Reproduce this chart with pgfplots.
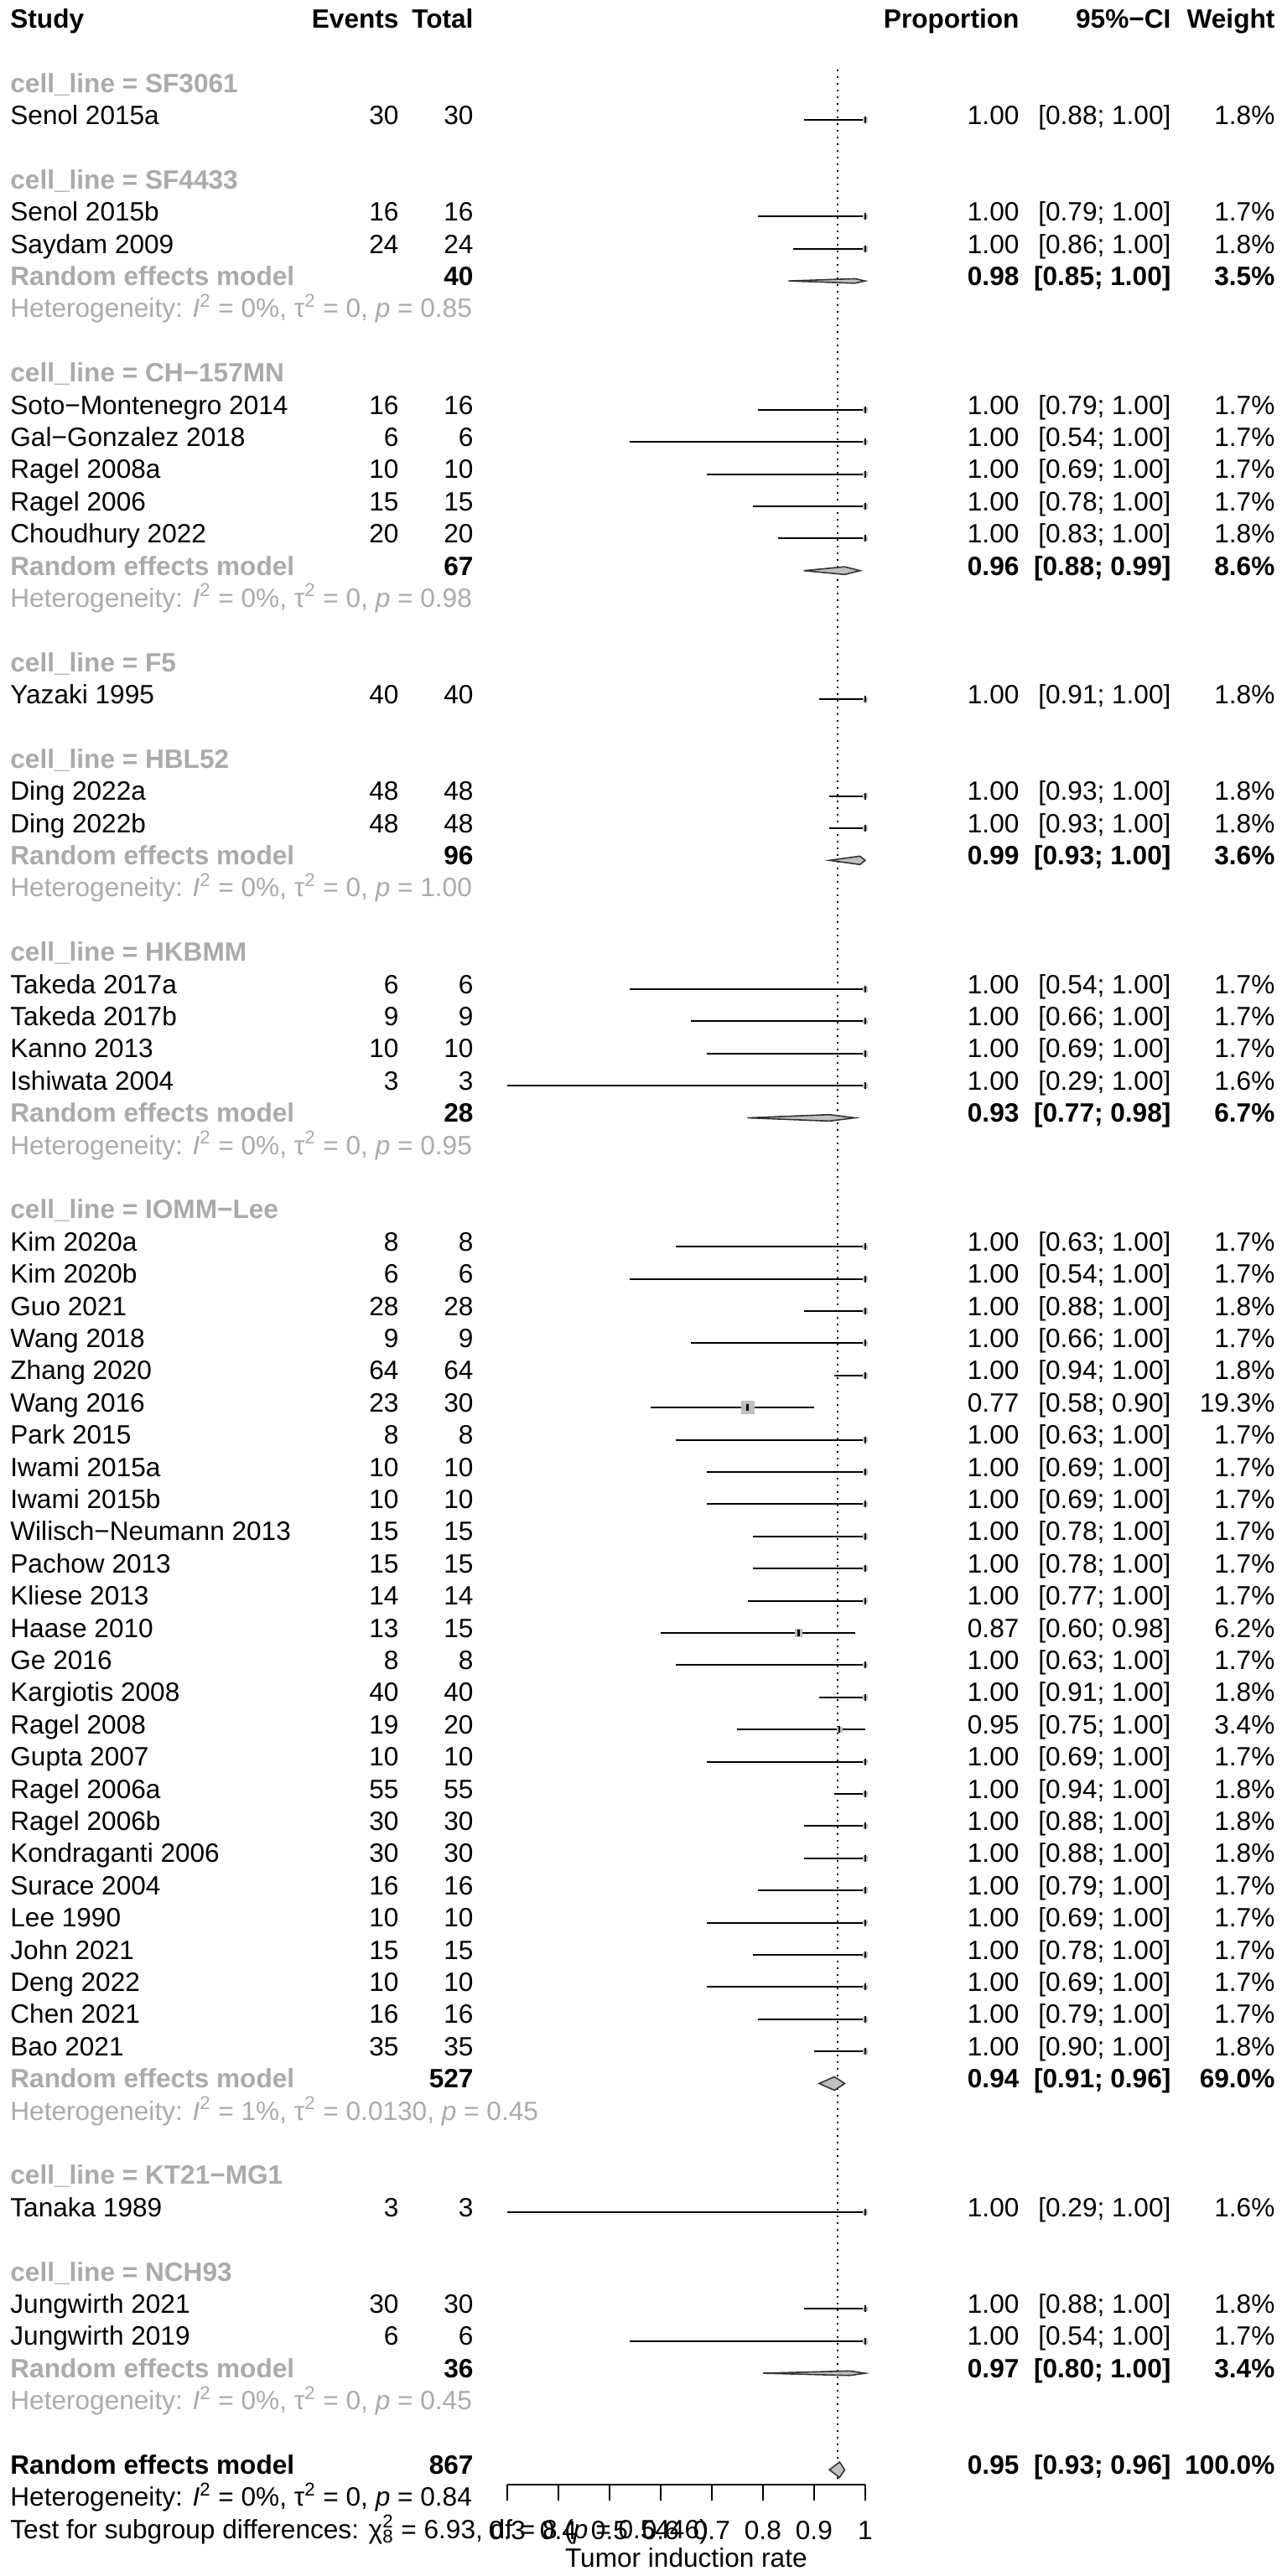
\documentclass[border=0pt]{standalone}
\usepackage{fontspec}
\setmainfont{Liberation Sans}
\usepackage{pgfplots}
\pgfplotsset{compat=1.18}
\usepackage{pgfplotstable}
\definecolor{gtext}{HTML}{AAAAAA}
\definecolor{sqfill}{HTML}{BEBEBE}
\definecolor{dfill}{HTML}{C0C0C0}
\definecolor{ddraw}{HTML}{333333}
\newcommand\myfont{\fontsize{15.8bp}{19bp}\selectfont}
\pgfplotstableread{
y p lo hi w
-3 1.00 0.88 1.00 1.8
-6 1.00 0.79 1.00 1.7
-7 1.00 0.86 1.00 1.8
-12 1.00 0.79 1.00 1.7
-13 1.00 0.54 1.00 1.7
-14 1.00 0.69 1.00 1.7
-15 1.00 0.78 1.00 1.7
-16 1.00 0.83 1.00 1.8
-21 1.00 0.91 1.00 1.8
-24 1.00 0.93 1.00 1.8
-25 1.00 0.93 1.00 1.8
-30 1.00 0.54 1.00 1.7
-31 1.00 0.66 1.00 1.7
-32 1.00 0.69 1.00 1.7
-33 1.00 0.30 1.00 1.6
-38 1.00 0.63 1.00 1.7
-39 1.00 0.54 1.00 1.7
-40 1.00 0.88 1.00 1.8
-41 1.00 0.66 1.00 1.7
-42 1.00 0.94 1.00 1.8
-43 0.77 0.58 0.90 19.3
-44 1.00 0.63 1.00 1.7
-45 1.00 0.69 1.00 1.7
-46 1.00 0.69 1.00 1.7
-47 1.00 0.78 1.00 1.7
-48 1.00 0.78 1.00 1.7
-49 1.00 0.77 1.00 1.7
-50 0.87 0.60 0.98 6.2
-51 1.00 0.63 1.00 1.7
-52 1.00 0.91 1.00 1.8
-53 0.95 0.75 1.00 3.4
-54 1.00 0.69 1.00 1.7
-55 1.00 0.94 1.00 1.8
-56 1.00 0.88 1.00 1.8
-57 1.00 0.88 1.00 1.8
-58 1.00 0.79 1.00 1.7
-59 1.00 0.69 1.00 1.7
-60 1.00 0.78 1.00 1.7
-61 1.00 0.69 1.00 1.7
-62 1.00 0.79 1.00 1.7
-63 1.00 0.90 1.00 1.8
-68 1.00 0.30 1.00 1.6
-71 1.00 0.88 1.00 1.8
-72 1.00 0.54 1.00 1.7
}\studies
\newcommand\row[7]{%
 \node[anchor=mid west] at (axis cs:-0.6721,-#1) {#2};
 \node[anchor=mid east] at (axis cs:0.0885,-#1) {#3};
 \node[anchor=mid east] at (axis cs:0.2344,-#1) {#4};
 \node[anchor=mid east] at (axis cs:1.3016,-#1) {#5};
 \node[anchor=mid east] at (axis cs:1.5984,-#1) {#6};
 \node[anchor=mid east] at (axis cs:1.8016,-#1) {#7};}
\newcommand\grp[2]{\node[anchor=mid west,text=gtext] at (axis cs:-0.6721,-#1) {\bfseries cell\_line = #2};}
\newcommand\re[6]{%
 \node[anchor=mid west,text=gtext] at (axis cs:-0.6721,-#1) {\bfseries Random effects model};
 \node[anchor=mid east] at (axis cs:0.2344,-#1) {\bfseries #2};
 \node[anchor=mid east] at (axis cs:1.3016,-#1) {\bfseries #3};
 \node[anchor=mid east] at (axis cs:1.5984,-#1) {\bfseries #4};
 \node[anchor=mid east] at (axis cs:1.8016,-#1) {\bfseries #5};}
\newcommand\het[5]{\node[anchor=mid west,text=#5] at (axis cs:-0.6721,-#1) {Heterogeneity: \textit{I}\textsuperscript{2} = #2\%, τ\textsuperscript{2} = #3, \textit{p} = #4};}
\begin{document}
\begin{tikzpicture}[font=\myfont,every node/.style={inner sep=0pt}]
\begin{axis}[
  scale only axis, width=213.5bp, height=1482.1bp,
  xmin=0.3, xmax=1, ymin=-76.46, ymax=0.729,
  axis x line=bottom, axis y line=none, clip=false,
  xtick={0.3,0.4,0.5,0.6,0.7,0.8,0.9,1},
  tick align=outside, major tick length=9.5bp,
  every tick/.style={black, line width=0.8bp},
  axis line style={line width=1bp,-},
  xticklabel style={font=\myfont, yshift=-12bp, inner sep=0pt},
  /pgf/number format/assume math mode=true,
  /pgf/number format/fixed,
]
% dotted reference line
\addplot[dash pattern=on 1bp off 3bp, line width=1.1bp, black] coordinates {(0.946,-1.43) (0.946,-76.46)};
% CI lines
\addplot[draw=none, mark=none, forget plot,
  error bars/.cd, x dir=both, x explicit, error mark=none,
  error bar style={line width=1bp, black}]
  table[x=p, y=y, x error minus expr=\thisrow{p}-\thisrow{lo}, x error plus expr=\thisrow{hi}-\thisrow{p}] {\studies};
% weight squares
\addplot[scatter, only marks, mark=square*, point meta=explicit,
  scatter/use mapped color={draw=sqfill, fill=sqfill},
  visualization depends on={0.854*sqrt(\thisrow{w}) \as \ms},
  scatter/@pre marker code/.append style={/tikz/mark size=\ms}]
  table[x=p, y=y, meta=w] {\studies};
\addplot[only marks, mark=|, mark size=2bp, mark options={line width=1.1bp, black}] table[x=p,y=y] {\studies};
% diamonds
\addplot[fill=dfill, draw=ddraw, line width=0.8bp] coordinates {(0.85,-8) (0.98,-7.93) (1.00,-8) (0.98,-8.07)} -- cycle;
\addplot[fill=dfill, draw=ddraw, line width=0.8bp] coordinates {(0.88,-17) (0.96,-16.88) (0.99,-17) (0.96,-17.12)} -- cycle;
\addplot[fill=dfill, draw=ddraw, line width=0.8bp] coordinates {(0.93,-26) (0.99,-25.87) (1.00,-26) (0.99,-26.13)} -- cycle;
\addplot[fill=dfill, draw=ddraw, line width=0.8bp] coordinates {(0.77,-34) (0.93,-33.9) (0.98,-34) (0.93,-34.1)} -- cycle;
\addplot[fill=dfill, draw=ddraw, line width=0.8bp] coordinates {(0.91,-64) (0.94,-63.79) (0.96,-64) (0.94,-64.21)} -- cycle;
\addplot[fill=dfill, draw=ddraw, line width=0.8bp] coordinates {(0.80,-73) (0.97,-72.93) (1.00,-73) (0.97,-73.07)} -- cycle;
\addplot[fill=dfill, draw=ddraw, line width=0.8bp] coordinates {(0.93,-76) (0.95,-75.76) (0.96,-76) (0.95,-76.24)} -- cycle;
% header
\row{0}{\bfseries Study}{\bfseries Events}{\bfseries Total}{\bfseries Proportion}{\bfseries 95\%−CI}{\bfseries Weight}
\grp{2}{SF3061}
\row{3}{Senol 2015a}{30}{30}{1.00}{[0.88; 1.00]}{1.8\%}
\grp{5}{SF4433}
\row{6}{Senol 2015b}{16}{16}{1.00}{[0.79; 1.00]}{1.7\%}
\row{7}{Saydam 2009}{24}{24}{1.00}{[0.86; 1.00]}{1.8\%}
\re{8}{40}{0.98}{[0.85; 1.00]}{3.5\%}{}
\het{9}{0}{0}{0.85}{gtext}
\grp{11}{CH−157MN}
\row{12}{Soto−Montenegro 2014}{16}{16}{1.00}{[0.79; 1.00]}{1.7\%}
\row{13}{Gal−Gonzalez 2018}{6}{6}{1.00}{[0.54; 1.00]}{1.7\%}
\row{14}{Ragel 2008a}{10}{10}{1.00}{[0.69; 1.00]}{1.7\%}
\row{15}{Ragel 2006}{15}{15}{1.00}{[0.78; 1.00]}{1.7\%}
\row{16}{Choudhury 2022}{20}{20}{1.00}{[0.83; 1.00]}{1.8\%}
\re{17}{67}{0.96}{[0.88; 0.99]}{8.6\%}{}
\het{18}{0}{0}{0.98}{gtext}
\grp{20}{F5}
\row{21}{Yazaki 1995}{40}{40}{1.00}{[0.91; 1.00]}{1.8\%}
\grp{23}{HBL52}
\row{24}{Ding 2022a}{48}{48}{1.00}{[0.93; 1.00]}{1.8\%}
\row{25}{Ding 2022b}{48}{48}{1.00}{[0.93; 1.00]}{1.8\%}
\re{26}{96}{0.99}{[0.93; 1.00]}{3.6\%}{}
\het{27}{0}{0}{1.00}{gtext}
\grp{29}{HKBMM}
\row{30}{Takeda 2017a}{6}{6}{1.00}{[0.54; 1.00]}{1.7\%}
\row{31}{Takeda 2017b}{9}{9}{1.00}{[0.66; 1.00]}{1.7\%}
\row{32}{Kanno 2013}{10}{10}{1.00}{[0.69; 1.00]}{1.7\%}
\row{33}{Ishiwata 2004}{3}{3}{1.00}{[0.29; 1.00]}{1.6\%}
\re{34}{28}{0.93}{[0.77; 0.98]}{6.7\%}{}
\het{35}{0}{0}{0.95}{gtext}
\grp{37}{IOMM−Lee}
\row{38}{Kim 2020a}{8}{8}{1.00}{[0.63; 1.00]}{1.7\%}
\row{39}{Kim 2020b}{6}{6}{1.00}{[0.54; 1.00]}{1.7\%}
\row{40}{Guo 2021}{28}{28}{1.00}{[0.88; 1.00]}{1.8\%}
\row{41}{Wang 2018}{9}{9}{1.00}{[0.66; 1.00]}{1.7\%}
\row{42}{Zhang 2020}{64}{64}{1.00}{[0.94; 1.00]}{1.8\%}
\row{43}{Wang 2016}{23}{30}{0.77}{[0.58; 0.90]}{19.3\%}
\row{44}{Park 2015}{8}{8}{1.00}{[0.63; 1.00]}{1.7\%}
\row{45}{Iwami 2015a}{10}{10}{1.00}{[0.69; 1.00]}{1.7\%}
\row{46}{Iwami 2015b}{10}{10}{1.00}{[0.69; 1.00]}{1.7\%}
\row{47}{Wilisch−Neumann 2013}{15}{15}{1.00}{[0.78; 1.00]}{1.7\%}
\row{48}{Pachow 2013}{15}{15}{1.00}{[0.78; 1.00]}{1.7\%}
\row{49}{Kliese 2013}{14}{14}{1.00}{[0.77; 1.00]}{1.7\%}
\row{50}{Haase 2010}{13}{15}{0.87}{[0.60; 0.98]}{6.2\%}
\row{51}{Ge 2016}{8}{8}{1.00}{[0.63; 1.00]}{1.7\%}
\row{52}{Kargiotis 2008}{40}{40}{1.00}{[0.91; 1.00]}{1.8\%}
\row{53}{Ragel 2008}{19}{20}{0.95}{[0.75; 1.00]}{3.4\%}
\row{54}{Gupta 2007}{10}{10}{1.00}{[0.69; 1.00]}{1.7\%}
\row{55}{Ragel 2006a}{55}{55}{1.00}{[0.94; 1.00]}{1.8\%}
\row{56}{Ragel 2006b}{30}{30}{1.00}{[0.88; 1.00]}{1.8\%}
\row{57}{Kondraganti 2006}{30}{30}{1.00}{[0.88; 1.00]}{1.8\%}
\row{58}{Surace 2004}{16}{16}{1.00}{[0.79; 1.00]}{1.7\%}
\row{59}{Lee 1990}{10}{10}{1.00}{[0.69; 1.00]}{1.7\%}
\row{60}{John 2021}{15}{15}{1.00}{[0.78; 1.00]}{1.7\%}
\row{61}{Deng 2022}{10}{10}{1.00}{[0.69; 1.00]}{1.7\%}
\row{62}{Chen 2021}{16}{16}{1.00}{[0.79; 1.00]}{1.7\%}
\row{63}{Bao 2021}{35}{35}{1.00}{[0.90; 1.00]}{1.8\%}
\re{64}{527}{0.94}{[0.91; 0.96]}{69.0\%}{}
\het{65}{1}{0.0130}{0.45}{gtext}
\grp{67}{KT21−MG1}
\row{68}{Tanaka 1989}{3}{3}{1.00}{[0.29; 1.00]}{1.6\%}
\grp{70}{NCH93}
\row{71}{Jungwirth 2021}{30}{30}{1.00}{[0.88; 1.00]}{1.8\%}
\row{72}{Jungwirth 2019}{6}{6}{1.00}{[0.54; 1.00]}{1.7\%}
\re{73}{36}{0.97}{[0.80; 1.00]}{3.4\%}{}
\het{74}{0}{0}{0.45}{gtext}
\node[anchor=mid west] at (axis cs:-0.6721,-76) {\bfseries Random effects model};
\node[anchor=mid east] at (axis cs:0.2344,-76) {\bfseries 867};
\node[anchor=mid east] at (axis cs:1.3016,-76) {\bfseries 0.95};
\node[anchor=mid east] at (axis cs:1.5984,-76) {\bfseries [0.93; 0.96]};
\node[anchor=mid east] at (axis cs:1.8016,-76) {\bfseries 100.0\%};
\het{77}{0}{0}{0.84}{black}
\node[anchor=mid west] at (axis cs:-0.6721,-78) {Test for subgroup differences: χ\rlap{\textsuperscript{2}}\textsubscript{8} = 6.93, df = 8 (\textit{p} = 0.5446)};
\node[anchor=mid] at (axis cs:0.65,-78.88) {Tumor induction rate};
\path (axis cs:-0.6918,0.729) rectangle (axis cs:1.8148,-79.30);
\end{axis}
\end{tikzpicture}
\end{document}
